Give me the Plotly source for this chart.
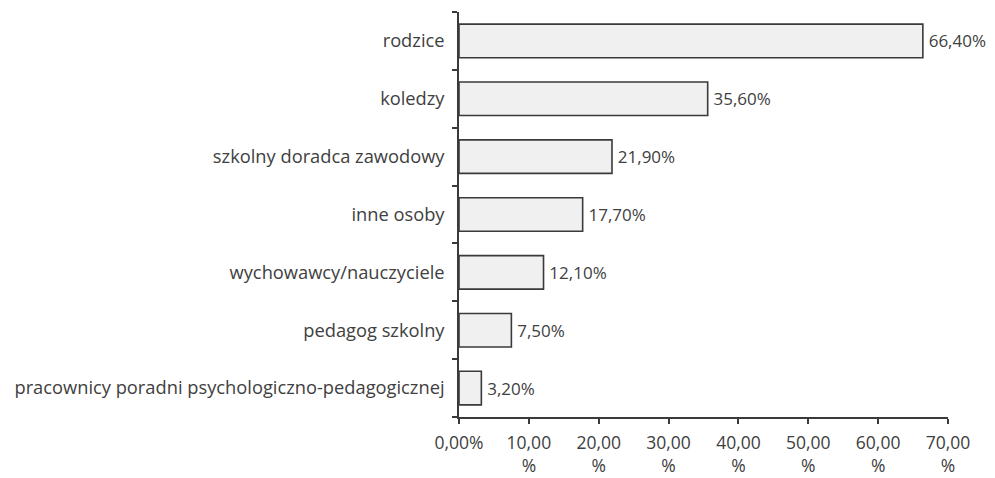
import plotly.graph_objects as go

categories = ["rodzice", "koledzy", "szkolny doradca zawodowy", "inne osoby",
              "wychowawcy/nauczyciele", "pedagog szkolny",
              "pracownicy poradni psychologiczno-pedagogicznej"]
values = [66.4, 35.6, 21.9, 17.7, 12.1, 7.5, 3.2]
value_labels = ["66,40%", "35,60%", "21,90%", "17,70%", "12,10%", "7,50%", "3,20%"]
tick_vals = [0, 10, 20, 30, 40, 50, 60, 70]
tick_text = ["0,00%", "10,00<br>%", "20,00<br>%", "30,00<br>%", "40,00<br>%",
             "50,00<br>%", "60,00<br>%", "70,00<br>%"]

font_family = "Open Sans, Liberation Sans, sans-serif"
txt_color = "#404040"
line_color = "#3a3a3a"

fig = go.Figure(go.Bar(
    x=values, y=categories, orientation="h",
    marker=dict(color="#f0f0f0", line=dict(color=line_color, width=1.6)),
    text=["\u2009" + t for t in value_labels], textposition="outside", cliponaxis=False,
    textfont=dict(family=font_family, size=17, color=txt_color),
    width=0.58,
))

# page body has an 8px default margin; compensate so the plot area lands where the reference has it
fig.update_layout(
    width=987, height=470,
    margin=dict(l=451, r=47, t=4, b=61),
    plot_bgcolor="white", paper_bgcolor="white",
    showlegend=False,
    font=dict(family=font_family, size=17, color=txt_color),
)
fig.update_xaxes(
    range=[0, 70], tickvals=tick_vals, ticktext=tick_text,
    showgrid=False, zeroline=False, showline=True, linecolor=line_color, linewidth=1.6,
    ticks="outside", ticklen=5, tickcolor=line_color, tickwidth=1.6,
    tickfont=dict(family=font_family, size=17.5, color=txt_color),
    ticklabelstandoff=4,
    automargin=False,
)
fig.update_yaxes(
    categoryorder="array", categoryarray=categories[::-1],
    showgrid=False, showline=True, linecolor=line_color, linewidth=1.6,
    ticks="outside", ticklen=5, tickcolor=line_color, tickwidth=1.6,
    tickson="boundaries", ticklabelstandoff=9,
    tickfont=dict(family=font_family, size=18.3, color=txt_color),
    automargin=False,
)

fig.write_html("out.html")
